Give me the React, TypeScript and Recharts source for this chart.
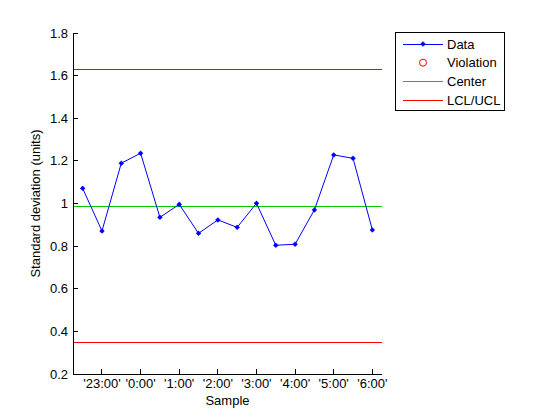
import { LineChart, Line, XAxis, YAxis, ReferenceLine, Legend } from "recharts";

// sample times (half-hourly), std-dev per sample
const sampleTimes = ["22:30", "23:00", "23:30", "0:00", "0:30", "1:00", "1:30", "2:00", "2:30", "3:00", "3:30", "4:00", "4:30", "5:00", "5:30", "6:00"];
const stdDevs = [1.071, 0.871, 1.189, 1.236, 0.935, 0.996, 0.86, 0.923, 0.888, 1.001, 0.804, 0.809, 0.97, 1.228, 1.212, 0.876];
const violations: (number | null)[] = [null, null, null, null, null, null, null, null, null, null, null, null, null, null, null, null];

const xTickLabels = ["23:00", "0:00", "1:00", "2:00", "3:00", "4:00", "5:00", "6:00"];
const yTicks = [0.2, 0.4, 0.6, 0.8, 1, 1.2, 1.4, 1.6, 1.8];

const centerLine = 0.985;
const lcl = 0.349;
const ucl = 1.63;

const FONT = "'Liberation Sans', Arial, Helvetica, sans-serif";
const BLUE = "#0000ff";
const GREEN = "#00cc00";
const RED = "#ff0000";

const data = sampleTimes.map((t, i) => ({ idx: i, time: t, s: stdDevs[i], violation: violations[i] }));
const xTicks = xTickLabels.map((l) => sampleTimes.indexOf(l));

const LeftTick = (props: any) => {
    const { x, y, payload } = props;
    return (
        <g>
            <line x1={x} x2={x + 5} y1={y} y2={y} stroke="#000" shapeRendering="crispEdges" />
            <text x={x - 5} y={y} dy={4.5} textAnchor="end" fontSize={13} fontFamily={FONT} fill="#000">
                {payload.value}
            </text>
        </g>
    );
};

const RightTick = (props: any) => {
    const { x, y } = props;
    return <line x1={x - 5} x2={x} y1={y} y2={y} stroke="#000" shapeRendering="crispEdges" />;
};

const BottomTick = (props: any) => {
    const { x, y, payload } = props;
    return (
        <g>
            <line x1={x} x2={x} y1={y} y2={y - 5} stroke="#000" shapeRendering="crispEdges" />
            <text x={x} y={y + 14} textAnchor="middle" fontSize={13} fontFamily={FONT} fill="#000">
                {`'${sampleTimes[payload.value]}'`}
            </text>
        </g>
    );
};

const TopTick = (props: any) => {
    const { x, y } = props;
    return <line x1={x} x2={x} y1={y} y2={y + 5} stroke="#000" shapeRendering="crispEdges" />;
};

const Marker = (props: any) => {
    const { cx, cy } = props;
    if (cx == null || cy == null) return null;
    return (
        <g>
            <circle cx={cx} cy={cy} r={2} fill={BLUE} />
            <line x1={cx - 2.5} x2={cx + 2.5} y1={cy} y2={cy} stroke={BLUE} />
            <line x1={cx} x2={cx} y1={cy - 2.5} y2={cy + 2.5} stroke={BLUE} />
        </g>
    );
};

const legendRows = [
    { name: "Data", kind: "data" },
    { name: "Violation", kind: "violation" },
    { name: "Center", kind: "center" },
    { name: "LCL/UCL", kind: "limits" },
];

const LegendBox = () => (
    <svg width={110} height={79} style={{ display: "block" }}>
        <rect x={0.5} y={0.5} width={109} height={78} fill="#fff" stroke="#000" shapeRendering="crispEdges" />
        {legendRows.map((r, i) => {
            const cy = 12 + i * 18.7;
            return (
                <g key={r.name}>
                    {r.kind === "data" && (
                        <>
                            <line x1={8} x2={48} y1={cy} y2={cy} stroke={BLUE} shapeRendering="crispEdges" />
                            <Marker cx={28} cy={cy} />
                        </>
                    )}
                    {r.kind === "violation" && <circle cx={28} cy={cy} r={3.5} fill="none" stroke={RED} />}
                    {r.kind === "center" && <line x1={8} x2={48} y1={cy} y2={cy} stroke={GREEN} shapeRendering="crispEdges" />}
                    {r.kind === "limits" && <line x1={8} x2={48} y1={cy} y2={cy} stroke={RED} shapeRendering="crispEdges" />}
                    <text x={52} y={cy + 4.5} fontSize={13} fontFamily={FONT} fill="#000">
                        {r.name}
                    </text>
                </g>
            );
        })}
    </svg>
);

export default function App() {
    return (
        <div style={{ position: "absolute", left: 0, top: 0, width: 560, height: 420, background: "#fff" }}>
            <LineChart width={560} height={420} data={data} margin={{ top: 33, right: 178, bottom: 0, left: 0 }}>
                <XAxis
                    dataKey="idx"
                    type="number"
                    domain={[-0.5, 15.5]}
                    ticks={xTicks}
                    height={46}
                    tickSize={0}
                    tickMargin={0}
                    stroke="#000"
                    axisLine={{ shapeRendering: "crispEdges" }}
                    tick={<BottomTick />}
                    label={{
                        content: (p: any) => (
                            <text x={p.viewBox.x + p.viewBox.width / 2} y={p.viewBox.y + 31} textAnchor="middle" fontSize={13} fontFamily={FONT} fill="#000">
                                Sample
                            </text>
                        ),
                    }}
                />
                <XAxis
                    xAxisId="top"
                    orientation="top"
                    type="number"
                    domain={[-0.5, 15.5]}
                    ticks={xTicks}
                    height={0}
                    tickSize={0}
                    tickMargin={0}
                    stroke="#000"
                    axisLine={{ shapeRendering: "crispEdges" }}
                    tick={<TopTick />}
                    label={{
                        content: (p: any) => (
                            <text x={p.viewBox.x + p.viewBox.width / 2} y={20} textAnchor="middle" fontSize={13} fontFamily={FONT} fill="#000">
                                s chart for quality characteristic XXX
                            </text>
                        ),
                    }}
                />
                <YAxis
                    type="number"
                    domain={[0.2, 1.8]}
                    ticks={yTicks}
                    width={73}
                    tickSize={0}
                    tickMargin={0}
                    stroke="#000"
                    axisLine={{ shapeRendering: "crispEdges" }}
                    tick={<LeftTick />}
                    label={{
                        content: (p: any) => {
                            const cy = p.viewBox.y + p.viewBox.height / 2;
                            return (
                                <text x={40} y={cy} transform={`rotate(-90 40 ${cy})`} textAnchor="middle" fontSize={13} fontFamily={FONT} fill="#000">
                                    Standard deviation (units)
                                </text>
                            );
                        },
                    }}
                />
                <YAxis
                    yAxisId="right"
                    orientation="right"
                    type="number"
                    domain={[0.2, 1.8]}
                    ticks={yTicks}
                    width={0}
                    tickSize={0}
                    tickMargin={0}
                    stroke="#000"
                    axisLine={{ shapeRendering: "crispEdges" }}
                    tick={<RightTick />}
                />
                <ReferenceLine y={ucl} stroke={RED} shapeRendering="crispEdges" />
                <ReferenceLine y={lcl} stroke={RED} shapeRendering="crispEdges" />
                <ReferenceLine y={centerLine} stroke={GREEN} shapeRendering="crispEdges" />
                <Line dataKey="s" stroke={BLUE} strokeWidth={1} dot={<Marker />} activeDot={false} isAnimationActive={false} />
                <Line dataKey="violation" stroke="none" dot={{ r: 3.5, stroke: RED, fill: "none" }} isAnimationActive={false} />
                <Legend
                    layout="horizontal"
                    verticalAlign="middle"
                    align="center"
                    wrapperStyle={{ left: 395, top: 32, width: 110, height: 79 }}
                    content={() => <LegendBox />}
                />
            </LineChart>
        </div>
    );
}
